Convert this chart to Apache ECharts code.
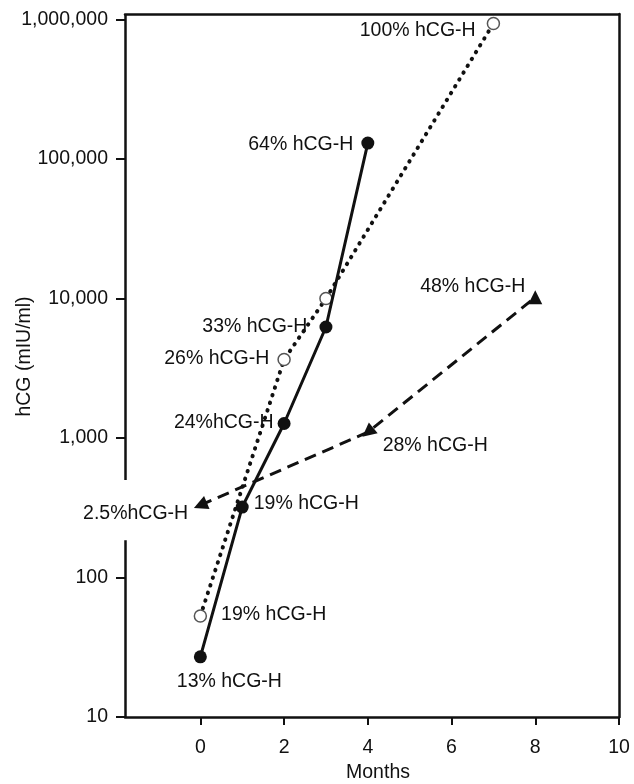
<!DOCTYPE html>
<html><head><meta charset="utf-8">
<script src="https://cdn.jsdelivr.net/npm/echarts@6/dist/echarts.min.js"></script>
<style>html,body{margin:0;padding:0;background:#fff}#c{width:634px;height:784px}</style>
</head><body><div id="c"></div>
<script>
// ---- data ----
const xTicks = [0, 2, 4, 6, 8, 10];
const yTicks = [10, 100, 1000, 10000, 100000, 1000000];

const solidMonths = [0, 1, 2, 3, 4];
const solidValues = [27, 320, 1270, 6250, 130000];
const solidLabels = ['13% hCG-H', '19% hCG-H', '24%hCG-H', '33% hCG-H', '64% hCG-H'];

const dottedMonths = [0, 2, 3, 7];
const dottedValues = [53, 3650, 10000, 935000];
const dottedLabels = ['19% hCG-H', '26% hCG-H', '', '100% hCG-H'];

const dashedMonths = [0, 4, 8];
const dashedValues = [330, 1100, 10200];
const dashedLabels = ['2.5%hCG-H', '28% hCG-H', '48% hCG-H'];

// ---- label placement / styling (not data) ----
const solidLayout = [
  {position: 'bottom', distance: 8, offset: [29, 0]},
  {position: 'right', distance: 5, offset: [0, -3]},
  {position: 'left', distance: 4, offset: [0, -1]},
  {position: 'left', distance: 12, offset: [0, 0]},
  {position: 'left', distance: 8, offset: [0, 2]}
];
const dottedLayout = [
  {position: 'right', distance: 14, offset: [0, -1]},
  {position: 'left', distance: 8, offset: [0, -1]},
  {position: 'left', distance: 8, offset: [0, 0]},
  {position: 'left', distance: 11, offset: [0, 7]}
];
const dashedLayout = [
  {position: 'left', distance: 3, offset: [0, 8]},
  {position: 'right', distance: 5, offset: [0, 13]},
  {position: 'left', distance: 3, offset: [0, -11]}
];
const dashedRotate = [113, 129, 0];

const X_MIN = -1.8, X_MAX = 10, Y_MIN = 10, Y_MAX = 1095000;
const FONT = "'Liberation Sans', Arial, sans-serif";
const INK = '#111';
const FS = 19.5;

function build(months, values, labels, layout) {
  return months.map((m, i) => ({
    value: [m, values[i]],
    label: Object.assign({show: labels[i] !== '', formatter: labels[i]}, layout[i])
  }));
}

const labelStyle = {color: INK, fontSize: FS, fontFamily: FONT};

const chart = echarts.init(document.getElementById('c'), null, {renderer: 'canvas'});
chart.setOption({
  animation: false,
  backgroundColor: '#fff',
  grid: {left: 125, right: 15, top: 14, bottom: 67, containLabel: false, outerBoundsMode: 'none'},
  xAxis: [{
    type: 'value', min: X_MIN, max: X_MAX,
    name: 'Months', nameLocation: 'middle', nameGap: 46, nameMoveOverlap: false,
    nameTextStyle: {color: INK, fontSize: FS, fontFamily: FONT, padding: [0, 0, 0, 12]},
    axisLine: {show: true, onZero: false, lineStyle: {color: INK, width: 2.5}},
    axisTick: {show: true, length: 8, lineStyle: {color: INK, width: 2}, customValues: xTicks},
    axisLabel: {color: INK, fontSize: FS, fontFamily: FONT, margin: 21, customValues: xTicks},
    splitLine: {show: false}
  }, {
    type: 'value', min: X_MIN, max: X_MAX, position: 'top',
    axisLine: {show: true, onZero: false, lineStyle: {color: INK, width: 2.5}},
    axisTick: {show: false}, axisLabel: {show: false}, splitLine: {show: false}
  }],
  yAxis: [{
    type: 'log', logBase: 10, min: Y_MIN, max: Y_MAX,
    name: 'hCG (mIU/ml)', nameLocation: 'middle', nameGap: 90, nameMoveOverlap: false,
    nameTextStyle: {color: INK, fontSize: FS, fontFamily: FONT, padding: [0, 0, 0, 18]},
    axisLine: {show: false, onZero: false},
    axisTick: {show: true, length: 9, lineStyle: {color: INK, width: 2}, customValues: yTicks},
    axisLabel: {color: INK, fontSize: FS, fontFamily: FONT, margin: 17, customValues: yTicks,
      formatter: v => Number(v).toLocaleString('en-US')},
    splitLine: {show: false}
  }, {
    type: 'log', logBase: 10, min: Y_MIN, max: Y_MAX, position: 'right',
    axisLine: {show: true, onZero: false, lineStyle: {color: INK, width: 2.5}},
    axisTick: {show: false}, axisLabel: {show: false}, splitLine: {show: false}
  }],
  series: [
    {
      type: 'line', name: 'axis', data: [], clip: false, silent: true,
      markLine: {
        silent: true, symbol: ['none', 'none'], label: {show: false},
        lineStyle: {color: INK, width: 2.5, type: 'solid'},
        data: [
          [{coord: [X_MIN, Y_MIN]}, {coord: [X_MIN, 185]}],
          [{coord: [X_MIN, 500]}, {coord: [X_MIN, Y_MAX]}]
        ]
      }
    },
    {
      type: 'line', name: 'dotted', z: 2,
      data: build(dottedMonths, dottedValues, dottedLabels, dottedLayout),
      symbol: 'circle', symbolSize: 12,
      itemStyle: {color: '#fff', borderColor: '#555', borderWidth: 1.5},
      lineStyle: {color: INK, width: 4, type: [0.5, 7.5], cap: 'round'},
      label: labelStyle
    },
    {
      type: 'line', name: 'solid', z: 3,
      data: build(solidMonths, solidValues, solidLabels, solidLayout),
      symbol: 'circle', symbolSize: 13,
      itemStyle: {color: INK},
      lineStyle: {color: INK, width: 3},
      label: labelStyle
    },
    {
      type: 'line', name: 'dashed', z: 4,
      data: build(dashedMonths, dashedValues, dashedLabels, dashedLayout),
      symbol: 'triangle', symbolSize: 14,
      symbolRotate: (val, params) => dashedRotate[params.dataIndex],
      itemStyle: {color: INK},
      lineStyle: {color: INK, width: 3, type: [12, 7]},
      label: labelStyle
    }
  ]
});
</script></body></html>
